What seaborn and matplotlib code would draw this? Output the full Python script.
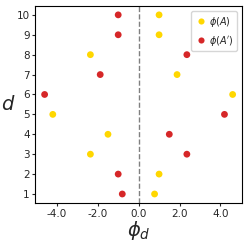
import numpy as np
import pandas as pd
import matplotlib
matplotlib.use("Agg")
import matplotlib.pyplot as plt
import seaborn as sns

d_values = [1, 2, 3, 4, 5, 6, 7, 8, 9, 10]
phi_A = [0.78, 1.0, -2.36, -1.5, -4.2, 4.6, 1.88, -2.36, 1.0, 1.0]
phi_A_prime = [-0.8, -1.0, 2.36, 1.5, 4.2, -4.6, -1.88, 2.36, -1.0, -1.0]
series_labels = [r"$\phi(A)$", r"$\phi(A')$"]
series_colors = ["#ffd700", "#d62728"]

sns.set_style("white")

df = pd.DataFrame({
    "phi": phi_A + phi_A_prime,
    "d": d_values + d_values,
    "series": [series_labels[0]] * len(d_values) + [series_labels[1]] * len(d_values),
})

fig, ax = plt.subplots(figsize=(2.48, 2.46), dpi=100)
ax.axvline(0, color="gray", linestyle="--", linewidth=1, zorder=0)
sns.scatterplot(data=df, x="phi", y="d", hue="series", palette=series_colors,
                s=24, edgecolor="none", ax=ax)

ax.set_yticks(d_values)
ax.set_xticks([-4, -2, 0, 2, 4])
ax.set_xticklabels([f"{v:.1f}" for v in [-4, -2, 0, 2, 4]])
ax.tick_params(labelsize=7.5, length=2.5, width=0.8, pad=1.5, left=True, bottom=True)
ax.set_xlabel(r"$\phi_d$", fontsize=14, labelpad=0)
ax.set_ylabel(r"$d$", fontsize=14, rotation=0, labelpad=6, va="center")
for sp in ax.spines.values():
    sp.set_color("black")
    sp.set_linewidth(0.8)

leg = ax.legend(loc="upper right", fontsize=7, markerscale=0.9, handletextpad=0.2,
                borderpad=0.4, labelspacing=0.5, handlelength=1.2, title=None)

fig.subplots_adjust(left=0.142, right=0.976, top=0.976, bottom=0.175)
fig.savefig("out.png", dpi=100)
